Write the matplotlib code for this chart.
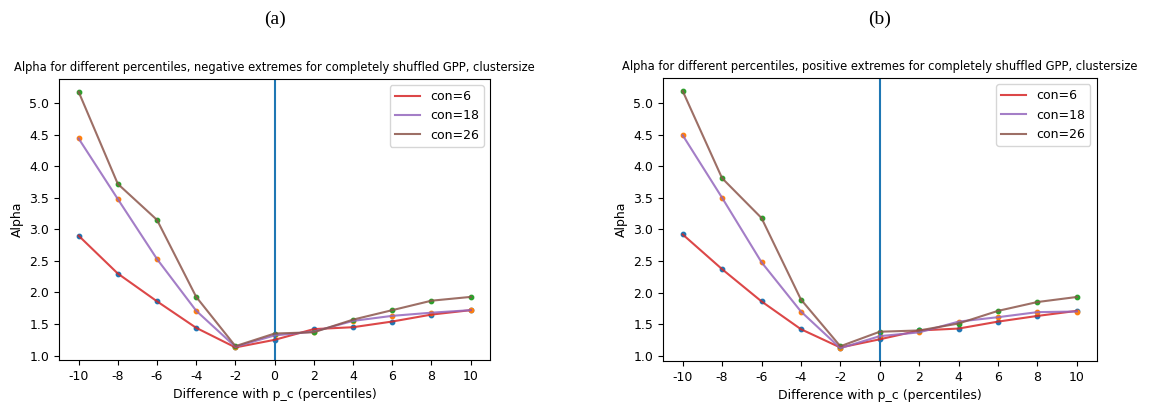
import matplotlib
matplotlib.use("Agg")
import matplotlib.pyplot as plt
import numpy as np

# percentile differences on the x axis
diff = [-10, -8, -6, -4, -2, 0, 2, 4, 6, 8, 10]
tick_labels = ["-10", "-8", "-6", "-4", "-2", "0", "2", "4", "6", "8", "10"]

# panel (a): negative extremes
neg_con6 = [2.90, 2.30, 1.86, 1.44, 1.13, 1.25, 1.42, 1.45, 1.54, 1.65, 1.72]
neg_con18 = [4.44, 3.48, 2.53, 1.71, 1.14, 1.32, 1.38, 1.55, 1.63, 1.68, 1.72]
neg_con26 = [5.18, 3.72, 3.15, 1.93, 1.15, 1.35, 1.37, 1.57, 1.72, 1.87, 1.93]

# panel (b): positive extremes
pos_con6 = [2.92, 2.37, 1.86, 1.42, 1.13, 1.26, 1.40, 1.43, 1.54, 1.63, 1.71]
pos_con18 = [4.49, 3.50, 2.48, 1.70, 1.12, 1.31, 1.37, 1.54, 1.61, 1.69, 1.70]
pos_con26 = [5.19, 3.81, 3.18, 1.89, 1.15, 1.38, 1.40, 1.51, 1.71, 1.85, 1.93]

con_labels = ["con=6", "con=18", "con=26"]
line_colors = ["tab:red", "tab:purple", "tab:brown"]
dot_colors = ["tab:blue", "tab:orange", "tab:green"]

panels = [
    ("(a)", "Alpha for different percentiles, negative extremes for completely shuffled GPP, clustersize",
     [neg_con6, neg_con18, neg_con26], [0.0513, 0.115, 0.375, 0.691]),
    ("(b)", "Alpha for different percentiles, positive extremes for completely shuffled GPP, clustersize",
     [pos_con6, pos_con18, pos_con26], [0.5765, 0.113, 0.377, 0.695]),
]

fig = plt.figure(figsize=(11.5, 4.07), dpi=100)

for letter, title, series, rect in panels:
    ax = fig.add_axes(rect)
    for vals, lc, dc, lab in zip(series, line_colors, dot_colors, con_labels):
        ax.scatter(diff, vals, s=10, color=dc, zorder=2)
        ax.plot(diff, vals, color=lc, alpha=0.85, lw=1.5, label=lab, zorder=3)
    ax.axvline(0, color="tab:blue", lw=1.5)
    ax.set_xticks(diff)
    ax.set_xticklabels(tick_labels)
    ax.set_title(title, fontsize=8.3)
    ax.set_xlabel("Difference with p_c (percentiles)", fontsize=9)
    ax.set_ylabel("Alpha", fontsize=9)
    ax.tick_params(labelsize=9)
    ax.legend(loc="upper right", fontsize=9)
    cx = rect[0] + rect[2] / 2
    fig.text(cx, 0.953, letter, ha="center", va="center", fontsize=14,
             family="Liberation Serif")

fig.savefig("out.png", dpi=100)
